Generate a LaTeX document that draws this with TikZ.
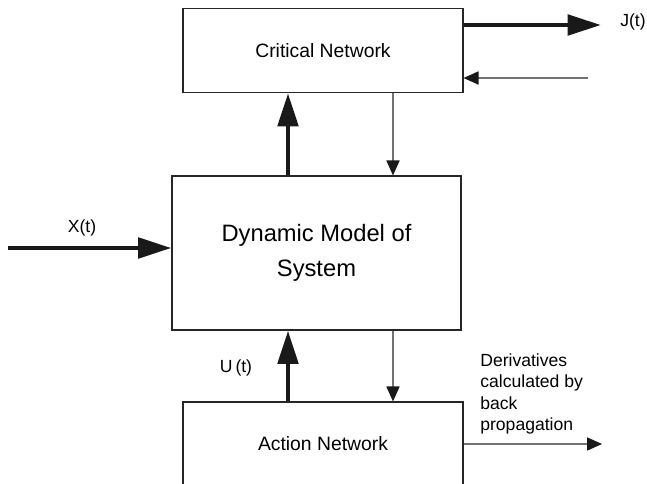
\documentclass[tikz,border=0pt]{standalone}
\usepackage{fontspec}
\setmainfont{Liberation Sans}
\usetikzlibrary{arrows.meta,positioning,calc}

\begin{document}
\begin{tikzpicture}[x=0.02cm,y=-0.02cm,
			box/.style={rectangle,draw=black!85,line width=0.7pt,inner sep=0pt},
			thickarr/.style={draw=black!90,line width=2.7pt,-{Triangle[length=19pt,width=11.5pt]}},
			thinarr/.style={draw=black!55,line width=0.65pt,-{Triangle[length=8.5pt,width=7.5pt,color=black!90]}},
			lbl/.style={inner sep=0pt,font=\fontsize{10}{12.3}\selectfont}]
		\useasboundingbox (0,0) rectangle (647,484);
		\path 	(323,50.5) 	node 	(crit) [box, minimum width=5.6cm, minimum height=1.68cm, font=\fontsize{11}{13}\selectfont] {Critical Network}
		        (316.5,253) node 	(dyn) [box, minimum width=5.78cm, minimum height=3.08cm, align=center, font=\fontsize{13.5}{20}\selectfont] {Dynamic Model of\\System}
		        (323,444) 	node 	(act) [box, minimum width=5.6cm, minimum height=1.68cm, font=\fontsize{11}{13}\selectfont] {Action Network};
		% free ends and x positions of the vertical arrows
		\coordinate (xin) at (8,248);
		\coordinate (jend) at (601,25);
		\coordinate (fb) at (588,78);
		\coordinate (dend) at (602,444);
		\coordinate (upx) at (288,0);
		\coordinate (dnx) at (393,0);
		\draw [thickarr] (xin) -- (dyn.west |- xin);
		\draw [thickarr] (crit.north east |- jend) -- (jend);
		\draw [thinarr] (fb) -- (crit.east |- fb);
		\draw [thickarr] (dyn.north -| upx) -- (crit.south -| upx);
		\draw [thinarr] (crit.south -| dnx) -- (dyn.north -| dnx);
		\draw [thickarr] (act.north -| upx) -- (dyn.south -| upx);
		\draw [thinarr] (dyn.south -| dnx) -- (act.north -| dnx);
		\draw [thinarr] (act.east) -- (dend);
		% labels
		\node [lbl, anchor=west] (jlab) at (620,22) {J(t)};
		\node [lbl] (xlab) at (82,228) {X(t)};
		\node [lbl] (ulab) at (236,368) {U\,(t)};
		\node [lbl, anchor=north west, align=left] (dlab) at (480,353) {Derivatives\\calculated by\\back\\propagation};
	\end{tikzpicture}
\end{document}
